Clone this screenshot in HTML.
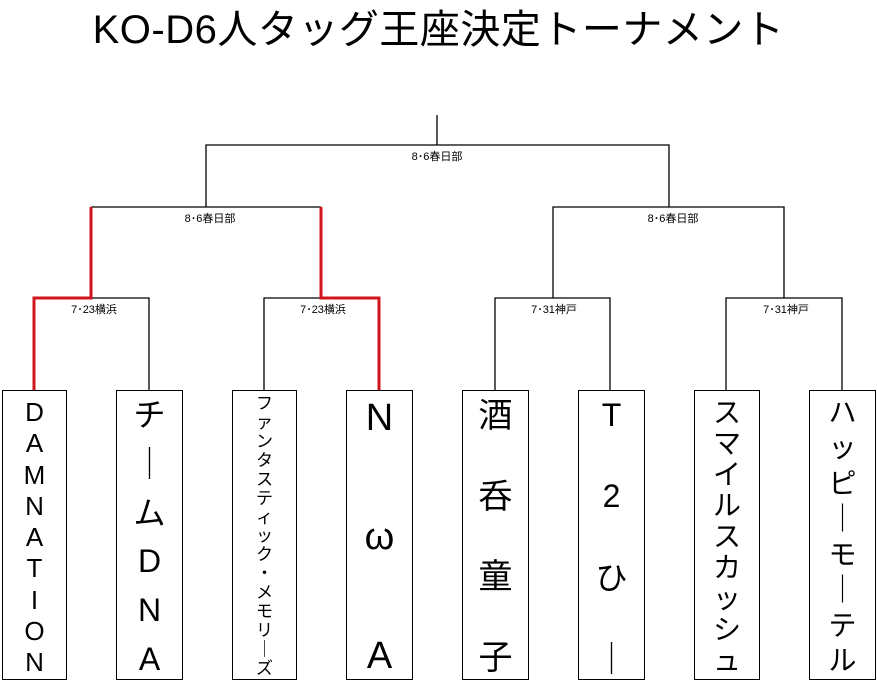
<!DOCTYPE html>
<html><head><meta charset="utf-8"><style>
body{margin:0;width:877px;height:683px;background:#fff;position:relative;overflow:hidden;font-family:"Liberation Sans","Noto Sans CJK JP",sans-serif;}
.t{position:absolute;left:0;width:877px;top:6px;text-align:center;font-size:40px;line-height:48px;color:#000;letter-spacing:0.5px;}
.box{position:absolute;top:390px;height:290px;border:1.5px solid #000;box-sizing:border-box;display:flex;flex-direction:column;align-items:center;justify-content:space-between;padding:8px 0 4px;}
.box span{display:block;line-height:1;}
.lbl{position:absolute;font-size:11px;transform:translateX(-50%);white-space:nowrap;}
</style></head><body>
<div class="t">KO-D6人タッグ王座決定トーナメント</div>
<svg width="877" height="683" style="position:absolute;left:0;top:0">
<g stroke="#000" stroke-width="1.3" fill="none">
<path d="M437 115V145M206 207V145H669V207"/>
<path d="M91 207H321M553 298V207H784V298"/>
<path d="M91 298H149V390M264 390V298H321"/>
<path d="M495 390V298H610V390M726 390V298H842V390"/>
</g>
<g stroke="#d0161c" stroke-width="3" fill="none">
<path d="M34 390V298H91V207M321 207V298H379V390"/>
</g>
</svg>
<div class="lbl" style="left:437px;top:148px">8･6春日部</div>
<div class="lbl" style="left:210px;top:210px">8･6春日部</div>
<div class="lbl" style="left:673px;top:210px">8･6春日部</div>
<div class="lbl" style="left:94px;top:301px">7･23横浜</div>
<div class="lbl" style="left:323px;top:301px">7･23横浜</div>
<div class="lbl" style="left:554px;top:301px">7･31神戸</div>
<div class="lbl" style="left:786px;top:301px">7･31神戸</div>

<div class="box" style="left:2px;width:65px;font-size:26px"><span>D</span><span>A</span><span>M</span><span>N</span><span>A</span><span>T</span><span>I</span><span>O</span><span>N</span></div>
<div class="box" style="left:116px;width:67px;font-size:32px"><span>チ</span><span>｜</span><span>ム</span><span>D</span><span>N</span><span>A</span></div>
<div class="box" style="left:232px;width:65px;font-size:17px;padding:4px 0 2px"><span>フ</span><span>ァ</span><span>ン</span><span>タ</span><span>ス</span><span>テ</span><span>ィ</span><span>ッ</span><span>ク</span><span>・</span><span>メ</span><span>モ</span><span>リ</span><span>｜</span><span>ズ</span></div>
<div class="box" style="left:346px;width:67px;font-size:38px"><span>N</span><span>ω</span><span>A</span></div>
<div class="box" style="left:462px;width:67px;font-size:34px"><span>酒</span><span>呑</span><span>童</span><span>子</span></div>
<div class="box" style="left:578px;width:67px;font-size:32px"><span>T</span><span>2</span><span>ひ</span><span>｜</span></div>
<div class="box" style="left:694px;width:66px;font-size:28px"><span>ス</span><span>マ</span><span>イ</span><span>ル</span><span>ス</span><span>カ</span><span>ッ</span><span>シ</span><span>ュ</span></div>
<div class="box" style="left:809px;width:67px;font-size:28px"><span>ハ</span><span>ッ</span><span>ピ</span><span>｜</span><span>モ</span><span>｜</span><span>テ</span><span>ル</span></div>
</body></html>
